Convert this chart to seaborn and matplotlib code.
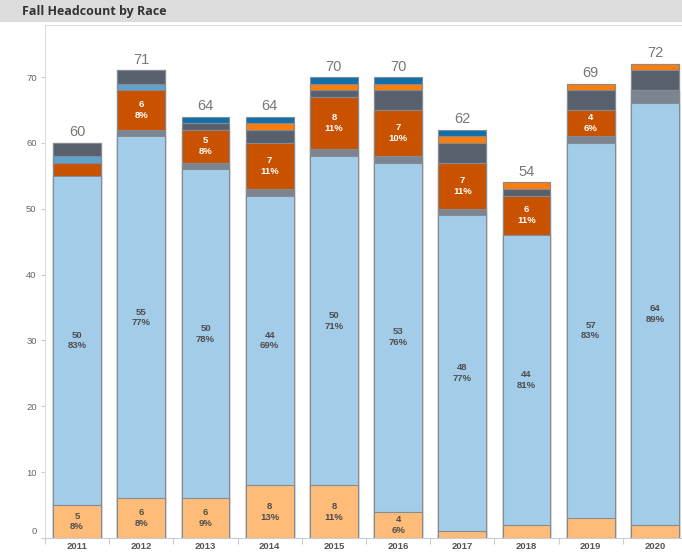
import numpy as np
import pandas as pd
import seaborn as sns
import matplotlib.pyplot as plt
import matplotlib.transforms as mtransforms
from matplotlib.patches import Rectangle
from matplotlib.ticker import FixedLocator

# Fall headcount by race, one value per year for each group (bottom of stack first)
years = ["2011", "2012", "2013", "2014", "2015", "2016", "2017", "2018", "2019", "2020"]
unknown = [5, 6, 6, 8, 8, 4, 1, 2, 3, 2]
white = [50, 55, 50, 44, 50, 53, 48, 44, 57, 64]
two_or_more = [0, 1, 1, 1, 1, 1, 1, 0, 1, 2]
hispanic = [2, 6, 5, 7, 8, 7, 7, 6, 4, 0]
pacific_islander = [1, 1, 0, 0, 0, 0, 0, 0, 0, 0]
black = [2, 2, 1, 2, 1, 3, 3, 1, 3, 3]
asian = [0, 0, 0, 1, 1, 1, 1, 1, 1, 1]
american_indian = [0, 0, 1, 1, 1, 1, 1, 0, 0, 0]

groups = [
    ("Unknown", unknown, "#FFBC79"),
    ("White", white, "#A3CCE9"),
    ("Two or More Races", two_or_more, "#7B848F"),
    ("Hispanic", hispanic, "#C85200"),
    ("Pacific Islander", pacific_islander, "#5FA2CE"),
    ("Black", black, "#57606C"),
    ("Asian", asian, "#FC7D0B"),
    ("American Indian", american_indian, "#1170AA"),
]
labelled = {"Unknown": "#4d4d4d", "White": "#4d4d4d", "Hispanic": "white"}

df = pd.DataFrame({name: vals for name, vals, _ in groups}, index=years)
cum = df.cumsum(axis=1)
totals = df.sum(axis=1)

sns.set_theme(style="white")
plt.rcParams["font.family"] = ["Liberation Sans", "DejaVu Sans"]

fig = plt.figure(figsize=(6.82, 5.58), dpi=100)
W, H = 682, 558
ax = fig.add_axes([45 / W, 20 / H, 642 / W, 513 / H])

# header band with the sheet title
fig.patches.append(Rectangle((0, 1 - 22 / H), 1, 22 / H, transform=fig.transFigure,
                             facecolor="#DCDCDC", edgecolor="none", zorder=0))
fig.text(22 / W, 1 - 11 / H, "Fall Headcount by Race", ha="left", va="center",
         fontsize=9, fontweight="bold", color="#333333", family=["Open Sans", "DejaVu Sans"])

# stacked bars: draw cumulative heights from the top layer down
for name, _, color in reversed(groups):
    plot_df = pd.DataFrame({"year": years, "value": cum[name].values})
    sns.barplot(data=plot_df, x="year", y="value", color=color, width=0.745,
                edgecolor="#858b93", linewidth=0.8, saturation=1, ax=ax, errorbar=None)

# value / share labels inside larger segments
for i, yr in enumerate(years):
    total = totals[yr]
    bottom = 0
    for name, vals, _ in groups:
        v = df.loc[yr, name]
        if name in labelled and v >= 4:
            pct = int(v * 100 / total + 0.5)
            ax.text(i, bottom + v / 2, f"{v}\n{pct}%", ha="center", va="center",
                    fontsize=6.8, fontweight="bold", color=labelled[name], linespacing=1.25)
        bottom += v
    ax.annotate(f"{total}", (i, total), xytext=(0, 2.5), textcoords="offset points",
                ha="center", va="bottom", fontsize=10.5, color="#777777")

ax.set_xlim(-0.5, len(years) - 0.5)
ax.set_ylim(0, 77.9)
ax.set_xlabel("")
ax.set_ylabel("")
ax.set_yticks(range(0, 71, 10))
ax.tick_params(axis="y", which="major", left=True, length=3, width=0.8, color="#cccccc",
               labelsize=6.8, labelcolor="#666666", pad=3)
ax.tick_params(axis="x", which="major", bottom=False, length=0, labelsize=6.8,
               labelcolor="#555555", pad=3)
for lbl in ax.get_xticklabels():
    lbl.set_fontweight("bold")
ax.xaxis.set_minor_locator(FixedLocator(np.arange(-0.5, len(years), 1.0)))
ax.tick_params(axis="x", which="minor", bottom=True, length=4, width=0.8, color="#cccccc")

# bottom tick label sits just inside the pane
zero_lbl = ax.get_yticklabels()[0]
zero_lbl.set_transform(zero_lbl.get_transform() +
                       mtransforms.ScaledTranslation(0, 7 / 100, fig.dpi_scale_trans))

for side in ["top", "left", "bottom", "right"]:
    ax.spines[side].set_color("#dddddd")
    ax.spines[side].set_linewidth(0.8)
ax.spines["bottom"].set_color("#cccccc")

fig.savefig("out.png", dpi=100)
